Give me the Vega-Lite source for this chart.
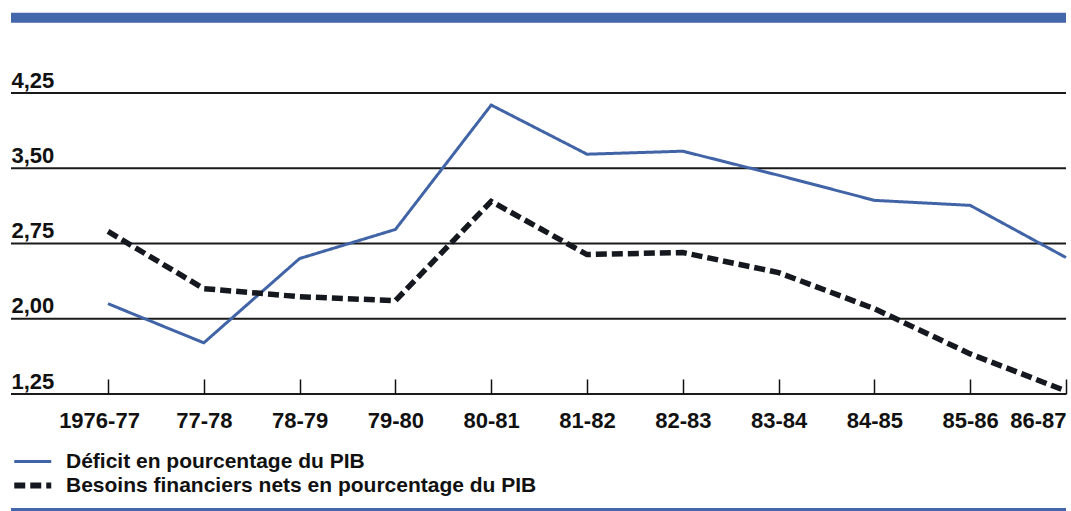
{
  "$schema": "https://vega.github.io/schema/vega-lite/v6.json",
  "autosize": {"type": "none"},
  "width": 1055,
  "height": 301,
  "padding": {"left": 11, "top": 93, "right": 5, "bottom": 117},
  "background": "white",
  "config": {
    "view": {"stroke": null},
    "font": "Liberation Sans"
  },
  "datasets": {
    "series": [
      {"period": "1976-77", "series": "Déficit en pourcentage du PIB", "value": 2.15},
      {"period": "77-78", "series": "Déficit en pourcentage du PIB", "value": 1.76},
      {"period": "78-79", "series": "Déficit en pourcentage du PIB", "value": 2.60},
      {"period": "79-80", "series": "Déficit en pourcentage du PIB", "value": 2.89},
      {"period": "80-81", "series": "Déficit en pourcentage du PIB", "value": 4.13},
      {"period": "81-82", "series": "Déficit en pourcentage du PIB", "value": 3.64},
      {"period": "82-83", "series": "Déficit en pourcentage du PIB", "value": 3.67},
      {"period": "83-84", "series": "Déficit en pourcentage du PIB", "value": 3.43},
      {"period": "84-85", "series": "Déficit en pourcentage du PIB", "value": 3.18},
      {"period": "85-86", "series": "Déficit en pourcentage du PIB", "value": 3.13},
      {"period": "86-87", "series": "Déficit en pourcentage du PIB", "value": 2.61},
      {"period": "1976-77", "series": "Besoins financiers nets en pourcentage du PIB", "value": 2.87},
      {"period": "77-78", "series": "Besoins financiers nets en pourcentage du PIB", "value": 2.30},
      {"period": "78-79", "series": "Besoins financiers nets en pourcentage du PIB", "value": 2.22},
      {"period": "79-80", "series": "Besoins financiers nets en pourcentage du PIB", "value": 2.18},
      {"period": "80-81", "series": "Besoins financiers nets en pourcentage du PIB", "value": 3.17},
      {"period": "81-82", "series": "Besoins financiers nets en pourcentage du PIB", "value": 2.64},
      {"period": "82-83", "series": "Besoins financiers nets en pourcentage du PIB", "value": 2.66},
      {"period": "83-84", "series": "Besoins financiers nets en pourcentage du PIB", "value": 2.46},
      {"period": "84-85", "series": "Besoins financiers nets en pourcentage du PIB", "value": 2.10},
      {"period": "85-86", "series": "Besoins financiers nets en pourcentage du PIB", "value": 1.65},
      {"period": "86-87", "series": "Besoins financiers nets en pourcentage du PIB", "value": 1.28}
    ],
    "gridlines": [
      {"level": 1.25}, {"level": 2.0}, {"level": 2.75}, {"level": 3.5}, {"level": 4.25}
    ],
    "frame": [
      {"edge": "top", "level": 5.0},
      {"edge": "bottom", "level": 0.1}
    ]
  },
  "layer": [
    {
      "data": {"name": "frame"},
      "transform": [{"filter": "datum.edge == 'top'"}],
      "mark": {"type": "rule", "color": "#4466ab", "strokeWidth": 10},
      "encoding": {"y": {"field": "level", "type": "quantitative"}}
    },
    {
      "data": {"name": "frame"},
      "transform": [{"filter": "datum.edge == 'bottom'"}],
      "mark": {"type": "rule", "color": "#4466ab", "strokeWidth": 3},
      "encoding": {"y": {"field": "level", "type": "quantitative"}}
    },
    {
      "data": {"name": "gridlines"},
      "mark": {"type": "rule", "color": "#1a1a1a", "strokeWidth": 1.8},
      "encoding": {"y": {"field": "level", "type": "quantitative"}}
    },
    {
      "data": {"name": "series"},
      "mark": {"type": "line", "strokeCap": "butt", "strokeJoin": "miter"},
      "encoding": {
        "x": {
          "field": "period",
          "type": "ordinal",
          "sort": null,
          "scale": {"type": "point", "range": [97, 1055], "padding": 0},
          "axis": {
            "title": null,
            "domain": false,
            "grid": false,
            "ticks": true,
            "tickSize": -15,
            "tickWidth": 1.5,
            "tickColor": "#111",
            "labelAngle": 0,
            "labelFont": "Liberation Sans",
            "labelFontWeight": "bold",
            "labelFontSize": 22,
            "labelColor": "#111",
            "labelPadding": 31,
            "labelBaseline": "top",
            "labelOverlap": false,
            "labelBound": false,
            "labelAlign": {"condition": {"test": "datum.value == '86-87'", "value": "right"}, "value": "center"},
            "labelOffset": {"condition": {"test": "datum.value == '1976-77'", "value": -9}, "value": 0}
          }
        },
        "y": {
          "field": "value",
          "type": "quantitative",
          "scale": {"domain": [1.25, 4.25], "zero": false, "nice": false},
          "axis": {
            "title": null,
            "domain": false,
            "ticks": false,
            "tickSize": 0,
            "grid": false,
            "values": [1.25, 2.0, 2.75, 3.5, 4.25],
            "labelExpr": "replace(format(datum.value, '.2f'), '.', ',')",
            "labelFont": "Liberation Sans",
            "labelFontWeight": "bold",
            "labelFontSize": 22,
            "labelColor": "#111",
            "labelAlign": "left",
            "labelBaseline": "alphabetic",
            "labelPadding": 0,
            "labelOffset": -6,
            "labelOverlap": false,
            "labelBound": false
          }
        },
        "color": {
          "field": "series",
          "type": "nominal",
          "scale": {
            "domain": ["Déficit en pourcentage du PIB", "Besoins financiers nets en pourcentage du PIB"],
            "range": ["#4064a6", "#15181f"]
          },
          "legend": {
            "title": null,
            "orient": "none",
            "legendX": 2,
            "legendY": 358,
            "padding": 0,
            "rowPadding": 1,
            "symbolType": "M-1,0L3,0",
            "symbolSize": 342,
            "labelOffset": 32,
            "labelFont": "Liberation Sans",
            "labelFontWeight": "bold",
            "labelFontSize": 21,
            "labelColor": "#111",
            "labelLimit": 0,
            "encoding": {
              "symbols": {
                "strokeWidth": {"value": {"expr": "datum.value === 'Besoins financiers nets en pourcentage du PIB' ? 6 : 3"}}
              }
            }
          }
        },
        "strokeDash": {
          "field": "series",
          "type": "nominal",
          "scale": {
            "domain": ["Déficit en pourcentage du PIB", "Besoins financiers nets en pourcentage du PIB"],
            "range": [[1, 0], [11, 5]]
          }
        },
        "strokeWidth": {
          "condition": {"test": "datum.series == 'Besoins financiers nets en pourcentage du PIB'", "value": 5.5},
          "value": 3
        }
      }
    }
  ]
}
